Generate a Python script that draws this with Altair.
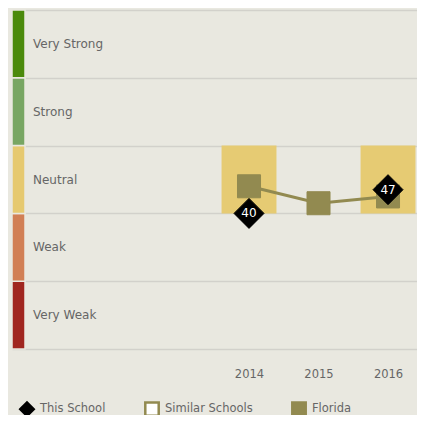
import altair as alt
import pandas as pd

years = [2014, 2015, 2016]
this_school = [40, None, 47]
florida = [48, 43, 45]
similar_band = ["Neutral", None, "Neutral"]

bands = ["Very Weak", "Weak", "Neutral", "Strong", "Very Strong"]
band_low = [0, 20, 40, 60, 80]
band_high = [20, 40, 60, 80, 100]
band_colors = ["#a02620", "#d17f55", "#e6c970", "#78a663", "#4b8a0c"]

series_names = ["This School", "Similar Schools", "Florida"]

BG = "#e9e8e0"
OLIVE = "#928a50"
FONT = "DejaVu Sans"

band_df = pd.DataFrame({"band": bands, "low": band_low, "high": band_high,
                        "color": band_colors})
band_df["mid"] = (band_df["low"] + band_df["high"]) / 2

ts_df = pd.DataFrame({"series": "This School", "year": years, "value": this_school}).dropna()
fl_df = pd.DataFrame({"series": "Florida", "year": years, "value": florida})

sim_rows = []
for y, b in zip(years, similar_band):
    if b is not None:
        i = bands.index(b)
        sim_rows.append({"year": y, "low": band_low[i], "high": band_high[i]})
sim = pd.DataFrame(sim_rows)

xscale = alt.Scale(domain=[2010.59, 2016.417], nice=False, zero=False)
yscale = alt.Scale(domain=[0, 100], nice=False, zero=False)

base_axis_x = alt.Axis(values=years, format="d", domain=False, ticks=False, grid=False,
                       labelPadding=19, labelFont=FONT, labelFontSize=11.5,
                       labelColor="#666666", title=None)
base_axis_y = alt.Axis(values=band_low + [100], domain=False, ticks=False, labels=False,
                       grid=True, gridColor="#d2d1cb", gridWidth=1.5, title=None)

grid = alt.Chart(band_df).mark_point(opacity=0).encode(
    x=alt.X("mid:Q", scale=xscale, axis=base_axis_x),
    y=alt.Y("low:Q", scale=yscale, axis=base_axis_y),
)

sim_layer = alt.Chart(sim).transform_calculate(
    x1="datum.year - 0.395", x2="datum.year + 0.395"
).mark_rect(color="#e6cb73").encode(
    x=alt.X("x1:Q", scale=xscale),
    x2="x2:Q",
    y=alt.Y("low:Q", scale=yscale),
    y2="high:Q",
)

line = alt.Chart(fl_df).mark_line(color=OLIVE, strokeWidth=3).encode(
    x=alt.X("year:Q", scale=xscale),
    y=alt.Y("value:Q", scale=yscale),
)

legend = alt.Legend(title=None, orient="none", legendX=7, legendY=391, padding=0,
                    direction="horizontal", labelFont=FONT, labelFontSize=11.5,
                    labelColor="#666666", symbolSize=180, symbolStrokeWidth=2.5,
                    columnPadding=34, labelOffset=5)

shape_enc = alt.Shape("series:N", scale=alt.Scale(domain=series_names,
                      range=["diamond", "square", "square"]), legend=legend)
fill_enc = alt.Fill("series:N", scale=alt.Scale(domain=series_names,
                    range=["black", "white", OLIVE]), legend=legend)
stroke_enc = alt.Stroke("series:N", scale=alt.Scale(domain=series_names,
                        range=["black", OLIVE, OLIVE]), legend=legend)

fl_points = alt.Chart(fl_df).mark_point(opacity=1, size=530, strokeWidth=1).encode(
    x=alt.X("year:Q", scale=xscale),
    y=alt.Y("value:Q", scale=yscale),
    shape=shape_enc, fill=fill_enc, stroke=stroke_enc,
)

ts_points = alt.Chart(ts_df).mark_point(opacity=1, size=900, strokeWidth=1).encode(
    x=alt.X("year:Q", scale=xscale),
    y=alt.Y("value:Q", scale=yscale),
    shape=shape_enc, fill=fill_enc, stroke=stroke_enc,
)

labels = alt.Chart(ts_df).mark_text(
    color="white", font=FONT, fontSize=12, baseline="middle", align="center"
).encode(
    x=alt.X("year:Q", scale=xscale),
    y=alt.Y("value:Q", scale=yscale),
    text=alt.Text("value:Q", format="d"),
)

strips = alt.Chart(band_df).mark_rect(stroke=BG, strokeWidth=1.5).encode(
    x=alt.value(0), x2=alt.value(13),
    y=alt.Y("low:Q", scale=yscale),
    y2="high:Q",
    color=alt.Color("color:N", scale=None),
)

band_text = alt.Chart(band_df).mark_text(
    align="left", baseline="middle", font=FONT, fontSize=12, color="#666666"
).encode(
    x=alt.value(21),
    y=alt.Y("mid:Q", scale=yscale),
    text="band:N",
)

chart = alt.layer(grid, sim_layer, line, fl_points, ts_points, labels, strips,
                  band_text).properties(
    width=405, height=339,
    padding={"left": 4, "top": 2, "right": 0, "bottom": 66},
    autosize=alt.AutoSizeParams(type="none"),
    background=BG,
).configure_view(stroke=None)

chart.save("out.html", embed_options={"renderer": "svg", "actions": False})
